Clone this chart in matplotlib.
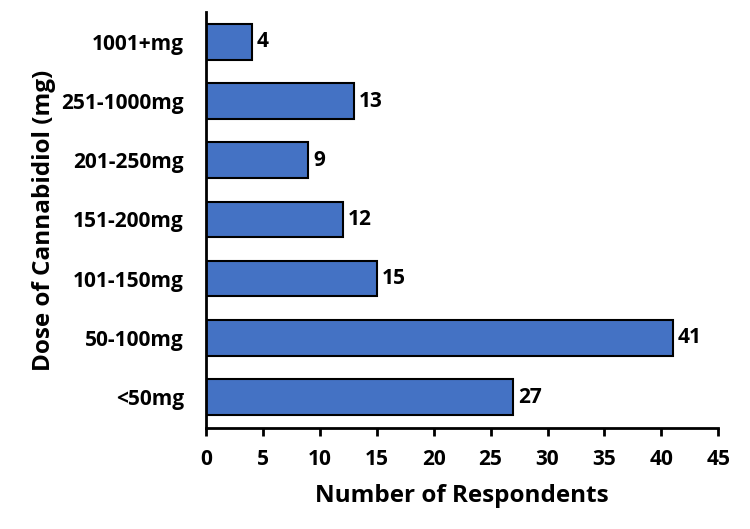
import matplotlib
matplotlib.use("Agg")
import matplotlib.pyplot as plt

# Daten
doses = ['<50mg', '50-100mg', '101-150mg', '151-200mg', '201-250mg', '251-1000mg', '1001+mg']
counts = [27, 41, 15, 12, 9, 13, 4]

plt.rcParams['font.family'] = ['Open Sans', 'DejaVu Sans']
plt.rcParams['font.weight'] = 'bold'

fig = plt.figure(figsize=(7.5, 5.29), dpi=100)
ax = fig.add_axes([0.2747, 0.191, 0.683, 0.786])

bars = ax.barh(doses, counts, height=0.6, color='#4472C4', edgecolor='black', linewidth=1.5)
for bar, val in zip(bars, counts):
    ax.text(bar.get_width() + 0.45, bar.get_y() + bar.get_height() / 2, str(val),
            va='center', ha='left', fontsize=15, fontweight='bold')

ax.set_xlim(0, 45)
ax.set_ylim(-0.52, 6.5)
ax.set_xticks(range(0, 46, 5))
ax.spines['top'].set_visible(False)
ax.spines['right'].set_visible(False)
ax.spines['left'].set_linewidth(2)
ax.spines['bottom'].set_linewidth(2)
ax.tick_params(axis='x', length=6, width=2, labelsize=15, pad=9)
ax.tick_params(axis='y', length=0, labelsize=15, pad=16)
for lbl in ax.get_xticklabels() + ax.get_yticklabels():
    lbl.set_fontweight('bold')

ax.set_xlabel('Number of Respondents', fontsize=17.5, fontweight='bold', labelpad=10)
ax.set_ylabel('Dose of Cannabidiol (mg)', fontsize=17.5, fontweight='bold', labelpad=4)

fig.savefig('out.png', dpi=100)
